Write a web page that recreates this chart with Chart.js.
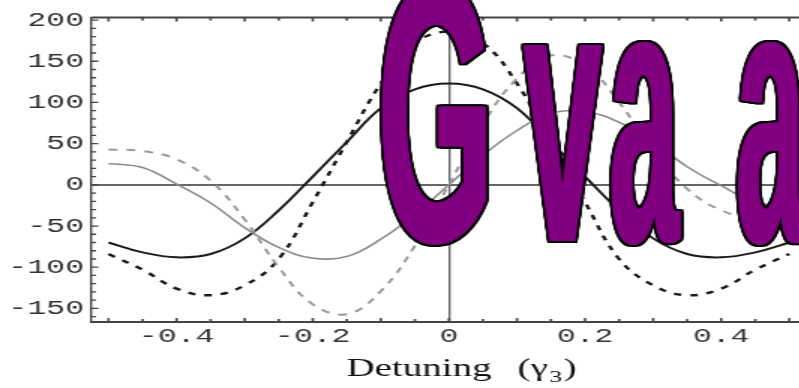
<!DOCTYPE html>
<html>
<head>
<meta charset="utf-8">
<title>Detuning</title>
<script src="https://cdn.jsdelivr.net/npm/chart.js@4.4.1/dist/chart.umd.min.js"></script>
<style>
  html, body { margin: 0; padding: 0; overflow: hidden; background: #fff; }
  /* the plot is laid out narrow and widened 1.5x, like the exported figure */
  #plot { display: block; transform: scaleX(1.5); transform-origin: 0 0; }
</style>
</head>
<body>
<canvas id="plot" width="533" height="388"></canvas>
<script>
const detuning = [-0.5, -0.45, -0.4, -0.35, -0.3, -0.25, -0.2, -0.15, -0.1, -0.05, 0,
                  0.05, 0.1, 0.15, 0.2, 0.25, 0.3, 0.35, 0.4, 0.45, 0.5];
const blackSolid  = [-70, -82, -88, -84, -65, -31, 10, 52, 93, 116, 123, 116, 93, 52, 10, -31, -65, -84, -88, -82, -70];
const blackDashed = [-84, -103, -126, -134, -122, -90, -21, 52, 123, 172, 186, 172, 123, 52, -21, -90, -122, -134, -126, -103, -84];
const graySolid   = [26, 21, 1, -22, -52, -76, -89, -87, -66, -36, 0, 36, 66, 87, 89, 76, 52, 22, -1, -21, -26];
const grayDashed  = [43, 41, 31, 5, -42, -100, -145, -157, -129, -74, 0, 74, 129, 157, 145, 100, 42, -5, -31, -41, -43];

const xTicks = [-0.4, -0.2, 0, 0.2, 0.4];
const yTicks = [-150, -100, -50, 0, 50, 100, 150, 200];
const xRange = [-0.525, 0.515];
const yRange = [-166.5, 203];

const xTitle = 'Detuning';
const xTitleUnit = ['(', '\u03b3', '3', ')'];
const plotLabel = 'G va a';
// pen position and horizontal squeeze of each non-space letter of plotLabel
const plotLabelPens = [251.6, 349.5, 406.2, 490.6];
const plotLabelSqueeze = [0.27, 0.25, 0.225, 0.225];

const tickFont = { family: 'Liberation Mono', size: 21 };

function series(values, color, width, dash) {
  return {
    data: detuning.map((x, i) => ({ x, y: values[i] })),
    borderColor: color,
    borderWidth: width,
    borderDash: dash,
    pointRadius: 0,
    tension: 0.4,
    fill: false,
  };
}

// inward tick marks and the top edge of the frame
const frameTicks = {
  id: 'frameTicks',
  beforeDatasetsDraw(chart) {
    const { ctx, chartArea: a, scales: { x, y } } = chart;
    ctx.save();
    ctx.strokeStyle = '#444';
    ctx.lineWidth = 2;
    ctx.beginPath();
    ctx.moveTo(a.left, a.top);
    ctx.lineTo(a.right, a.top);
    ctx.stroke();

    ctx.lineWidth = 1.3;
    ctx.beginPath();
    for (let v = -160; v <= 200; v += 10) {
      const py = y.getPixelForValue(v);
      const len = v % 50 === 0 ? 4.5 : 3;
      ctx.moveTo(a.left, py);
      ctx.lineTo(a.left + len, py);
    }
    ctx.stroke();

    ctx.lineWidth = 1.6;
    ctx.beginPath();
    for (let i = -10; i <= 10; i++) {
      const px = x.getPixelForValue(i * 0.05);
      const len = i % 2 === 0 ? 4 : 3;
      ctx.moveTo(px, a.bottom);
      ctx.lineTo(px, a.bottom - len);
      ctx.moveTo(px, a.top);
      ctx.lineTo(px, a.top + len);
    }
    ctx.stroke();
    ctx.restore();
  },
};

// axis title and the big outlined label
const labels = {
  id: 'labels',
  afterDraw(chart) {
    const ctx = chart.ctx;
    ctx.save();
    ctx.fillStyle = '#111';
    ctx.textBaseline = 'alphabetic';
    ctx.textAlign = 'left';
    ctx.font = '26px "Liberation Serif"';
    ctx.fillText(xTitle, 231, 376);
    let tx = 345;
    ctx.fillText(xTitleUnit[0] + xTitleUnit[1], tx, 376);
    tx += ctx.measureText(xTitleUnit[0] + xTitleUnit[1]).width + 1;
    ctx.font = '17px "Liberation Serif"';
    ctx.fillText(xTitleUnit[2], tx, 382);
    tx += ctx.measureText(xTitleUnit[2]).width + 1;
    ctx.font = '26px "Liberation Serif"';
    ctx.fillText(xTitleUnit[3], tx, 376);

    const base = 241, grow = 1, edge = 1.4;
    const letters = plotLabel.replace(/ /g, '').split('');
    ctx.font = 'bold 370px "Liberation Sans"';
    const stamp = (dx, dy) => {
      letters.forEach((ch, i) => {
        ctx.save();
        ctx.translate(plotLabelPens[i] + dx, base + dy);
        ctx.scale(plotLabelSqueeze[i], 1);
        ctx.fillText(ch, 0, 0);
        ctx.restore();
      });
    };
    // black copies nudged around the letter give the outline
    ctx.fillStyle = '#000';
    for (let dx = -grow - edge; dx <= grow + edge + 0.01; dx += 0.6) {
      for (let dy = -2; dy <= 2; dy += 1) stamp(dx, dy);
    }
    ctx.fillStyle = '#800080';
    for (let dx = -grow; dx <= grow + 0.01; dx += 0.5) stamp(dx, 0);
    ctx.restore();
  },
};

new Chart(document.getElementById('plot'), {
  type: 'line',
  data: {
    datasets: [
      series(graySolid, '#8c8c8c', 1.6, []),
      series(grayDashed, '#9a9a9a', 2, [6, 6]),
      series(blackSolid, '#1a1a1a', 2, []),
      series(blackDashed, '#1a1a1a', 2.4, [5, 6]),
    ],
  },
  options: {
    responsive: false,
    animation: false,
    layout: { padding: { top: 10, right: 0, bottom: 0, left: 0 } },
    plugins: { legend: { display: false }, tooltip: { enabled: false } },
    scales: {
      x: {
        type: 'linear',
        min: xRange[0],
        max: xRange[1],
        afterBuildTicks: (s) => { s.ticks = xTicks.map((value) => ({ value })); },
        afterFit: (s) => { s.height = 66; },
        ticks: {
          callback: (v) => (v === 0 ? '0' : v.toFixed(1)),
          font: tickFont,
          color: '#333',
          padding: 2,
          maxRotation: 0,
          autoSkip: false,
        },
        grid: {
          color: (c) => (c.tick && c.tick.value === 0 ? '#666' : 'transparent'),
          lineWidth: 1.4,
          drawTicks: false,
        },
        border: { color: '#444', width: 2 },
      },
      y: {
        min: yRange[0],
        max: yRange[1],
        afterBuildTicks: (s) => { s.ticks = yTicks.map((value) => ({ value })); },
        afterFit: (s) => { s.width = 61; },
        ticks: {
          font: tickFont,
          color: '#333',
          padding: 5,
          autoSkip: false,
        },
        grid: {
          color: (c) => (c.tick && c.tick.value === 0 ? '#666' : 'transparent'),
          lineWidth: 2,
          drawTicks: false,
        },
        border: { color: '#444', width: 1.4 },
      },
    },
  },
  plugins: [frameTicks, labels],
});
</script>
</body>
</html>
